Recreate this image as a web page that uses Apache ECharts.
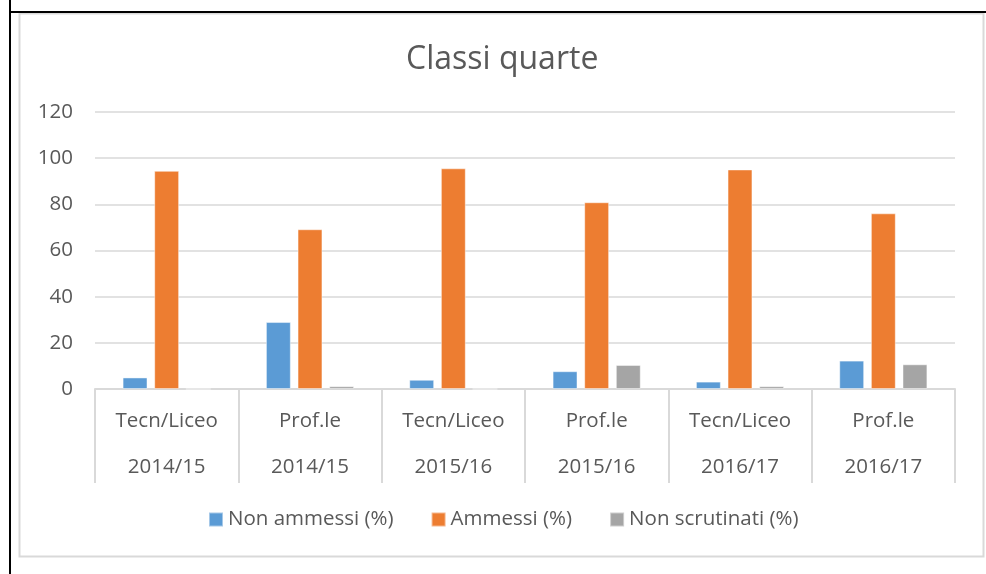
<!DOCTYPE html>
<html>
<head>
<meta charset="utf-8">
<script src="https://cdn.jsdelivr.net/npm/echarts@6/dist/echarts.min.js"></script>
<style>
html,body{margin:0;padding:0;background:#fff;}
#chart{width:986px;height:574px;}
</style>
</head>
<body>
<div id="chart"></div>
<script>
const schoolTypes = ['Tecn/Liceo', 'Prof.le', 'Tecn/Liceo', 'Prof.le', 'Tecn/Liceo', 'Prof.le'];
const years = ['2014/15', '2014/15', '2015/16', '2015/16', '2016/17', '2016/17'];
const nonAmmessi = [5.0, 29.0, 4.0, 7.7, 3.2, 12.3];
const ammessi = [94.5, 69.2, 95.6, 80.9, 95.1, 76.1];
const nonScrutinati = [0, 1.2, 0, 10.4, 1.2, 10.7];
const yTicks = [0, 20, 40, 60, 80, 100, 120];

const categories = schoolTypes.map((t, i) => t + '\n' + years[i]);
const FONT = '"Open Sans", sans-serif';
const TXT = '#595959';
const GRID = '#d9d9d9';

const chart = echarts.init(document.getElementById('chart'), null, {renderer: 'canvas'});
const barBorder = {borderColor: 'rgba(255,255,255,0.45)', borderWidth: 1};
chart.setOption({
  animation: false,
  backgroundColor: '#fff',
  textStyle: {fontFamily: FONT},
  graphic: [
    {type: 'rect', shape: {x: 19.5, y: 13.5, width: 964, height: 543}, style: {fill: 'none', stroke: GRID, lineWidth: 2}, silent: true, z: -1},
    {type: 'line', shape: {x1: 10, y1: 0, x2: 10, y2: 574}, style: {stroke: '#000', lineWidth: 2}, silent: true},
    {type: 'line', shape: {x1: 10, y1: 12, x2: 986, y2: 12}, style: {stroke: '#000', lineWidth: 2}, silent: true}
  ],
  title: {
    text: 'Classi quarte',
    left: 401,
    top: 39,
    textStyle: {fontFamily: FONT, fontSize: 32, fontWeight: 'normal', color: TXT}
  },
  legend: {
    left: 203,
    top: 504,
    icon: 'rect',
    itemWidth: 14,
    itemHeight: 14,
    itemGap: 37,
    textStyle: {fontFamily: FONT, fontSize: 20.5, color: TXT},
    data: ['Non ammessi (%)', 'Ammessi (%)', 'Non scrutinati (%)']
  },
  grid: {left: 95, right: 31, top: 112, bottom: 185, containLabel: false},
  xAxis: {
    type: 'category',
    data: categories,
    axisLine: {lineStyle: {color: GRID, width: 2}},
    axisTick: {show: true, length: 94, interval: 0, lineStyle: {color: GRID, width: 2}},
    axisLabel: {
      interval: 0,
      margin: 9,
      lineHeight: 46,
      fontFamily: FONT,
      fontSize: 20.5,
      color: TXT
    }
  },
  yAxis: {
    type: 'value',
    min: yTicks[0],
    max: yTicks[yTicks.length - 1],
    interval: 20,
    axisLine: {show: false},
    axisTick: {show: false},
    splitLine: {lineStyle: {color: GRID, width: 1.5}},
    axisLabel: {margin: 22, fontFamily: FONT, fontSize: 20.5, color: TXT}
  },
  series: [
    {name: 'Non ammessi (%)', type: 'bar', data: nonAmmessi, barGap: '27%', barCategoryGap: '38.5%', itemStyle: Object.assign({color: '#5B9BD5'}, barBorder)},
    {name: 'Ammessi (%)', type: 'bar', data: ammessi, itemStyle: Object.assign({color: '#ED7D31'}, barBorder)},
    {name: 'Non scrutinati (%)', type: 'bar', data: nonScrutinati, itemStyle: Object.assign({color: '#A5A5A5'}, barBorder)}
  ]
});
</script>
</body>
</html>
